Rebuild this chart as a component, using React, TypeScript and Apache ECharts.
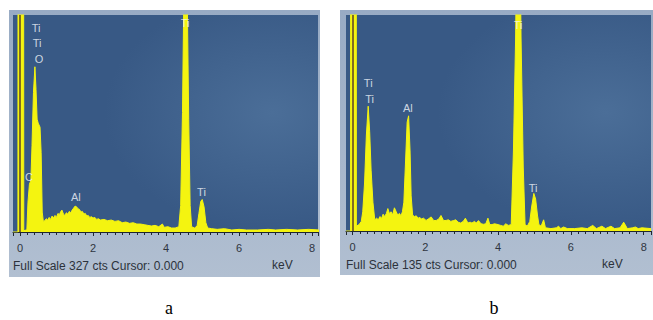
import React, { useEffect, useRef } from "react";
import * as echarts from "echarts";

// Spectrum a: [keV, counts]
const spectrumA: [number, number][] = [
  [-0.19, 0], [-0.055, 0], [-0.045, 2000], [0.09, 2000], [0.105, 2], [0.17, 3],
  [0.19, 4], [0.22, 45], [0.26, 72], [0.3, 78], [0.33, 130], [0.37, 210], [0.41, 249],
  [0.44, 215], [0.47, 170], [0.5, 164], [0.55, 158], [0.58, 120], [0.61, 30], [0.64, 16],
  [0.68, 17], [0.72, 20], [0.76, 18], [0.8, 22], [0.84, 19], [0.88, 24], [0.92, 21],
  [0.96, 25], [1.0, 22], [1.04, 28], [1.08, 26], [1.12, 31], [1.15, 33], [1.19, 27],
  [1.23, 25], [1.27, 29], [1.31, 27], [1.35, 31], [1.39, 29], [1.43, 33], [1.47, 36],
  [1.51, 39], [1.55, 38], [1.59, 35], [1.63, 34], [1.67, 30], [1.71, 31], [1.75, 27],
  [1.79, 28], [1.83, 24], [1.87, 25], [1.91, 22], [1.96, 23], [2.0, 21], [2.05, 22],
  [2.1, 19], [2.15, 20], [2.2, 18], [2.3, 19], [2.4, 17], [2.5, 18], [2.6, 16], [2.7, 17],
  [2.8, 14], [2.9, 15], [3.0, 13], [3.1, 14], [3.2, 12], [3.3, 12], [3.4, 11], [3.5, 10],
  [3.6, 9], [3.7, 10], [3.8, 8], [3.9, 12], [3.95, 7], [4.05, 8], [4.15, 6], [4.25, 6],
  [4.35, 8], [4.4, 40], [4.45, 180], [4.5, 420], [4.53, 470], [4.57, 400], [4.62, 170],
  [4.66, 40], [4.7, 8], [4.78, 6], [4.85, 9], [4.9, 28], [4.95, 46], [4.99, 49],
  [5.04, 38], [5.09, 14], [5.14, 6], [5.25, 5], [5.4, 4], [5.6, 5], [5.8, 3], [6.0, 4],
  [6.2, 3], [6.5, 3], [6.8, 4], [7.0, 3], [7.3, 4], [7.6, 3], [7.9, 4], [8.2, 3],
];

// Spectrum b: [keV, counts]
const spectrumB: [number, number][] = [
  [-0.18, 0], [-0.055, 0], [-0.045, 1000], [0.09, 1000], [0.105, 3], [0.18, 4],
  [0.24, 6], [0.28, 12], [0.33, 30], [0.38, 60], [0.43, 78], [0.47, 62], [0.51, 38],
  [0.56, 18], [0.61, 7], [0.66, 8], [0.71, 7], [0.75, 9], [0.8, 8], [0.84, 10.5],
  [0.88, 9], [0.93, 11], [0.97, 14], [1.01, 11], [1.06, 12], [1.1, 10], [1.15, 14.5],
  [1.2, 12], [1.24, 10], [1.29, 11], [1.33, 9.5], [1.37, 12], [1.41, 18], [1.45, 40],
  [1.5, 68], [1.54, 72], [1.58, 50], [1.61, 22], [1.65, 10], [1.7, 9], [1.75, 9.5],
  [1.8, 8], [1.85, 8.5], [1.89, 7.5], [1.95, 8], [2.02, 6.6], [2.08, 7.5], [2.16, 8.8],
  [2.23, 6.5], [2.3, 6.6], [2.37, 7.5], [2.43, 9.7], [2.5, 6.5], [2.57, 6.6], [2.63, 7],
  [2.7, 6], [2.77, 6.5], [2.84, 7], [2.9, 5.5], [2.97, 5], [3.04, 6], [3.1, 8],
  [3.17, 5], [3.23, 5.5], [3.28, 5], [3.35, 6], [3.4, 5], [3.46, 6.5], [3.53, 4.5],
  [3.6, 4.2], [3.66, 4.5], [3.72, 8], [3.77, 4], [3.83, 4], [3.9, 4.5], [4.0, 4],
  [4.07, 3.5], [4.14, 3], [4.21, 4.5], [4.28, 3.5], [4.36, 4], [4.42, 50], [4.48, 120],
  [4.53, 230], [4.58, 230], [4.63, 120], [4.69, 40], [4.74, 4], [4.8, 3], [4.87, 6],
  [4.92, 15], [4.98, 23.5], [5.03, 20], [5.08, 10], [5.12, 4], [5.18, 3], [5.25, 7],
  [5.3, 2], [5.45, 1.5], [5.6, 2], [5.66, 3], [5.72, 1.5], [5.8, 2.5], [5.9, 1.5],
  [6.1, 1.5], [6.3, 2], [6.45, 1.5], [6.6, 3.5], [6.7, 1.5], [6.85, 3], [6.95, 1.5],
  [7.1, 3], [7.2, 1.5], [7.35, 2], [7.45, 5.5], [7.55, 1.5], [7.7, 2], [7.77, 2.5],
  [7.85, 1.5], [7.95, 2], [8.2, 1.5],
];

// Peak labels: [keV, counts, element]
const peakLabelsA: [number, number, string][] = [
  [0.44, 307, "Ti"], [0.47, 285, "Ti"], [0.52, 261, "O"], [0.25, 83, "C"],
  [1.53, 53, "Al"], [4.52, 315, "Ti"], [4.97, 60, "Ti"],
];
const peakLabelsB: [number, number, string][] = [
  [0.43, 92.6, "Ti"], [0.47, 82.5, "Ti"], [1.52, 77, "Al"], [4.55, 129, "Ti"], [4.96, 27, "Ti"],
];

const fullScaleA = 327;
const fullScaleB = 135;
const footerA = "Full Scale 327 cts Cursor: 0.000";
const footerB = "Full Scale 135 cts Cursor: 0.000";
const panelNames = ["a", "b"];

const YELLOW = "#f4f410";
const SANS = "Liberation Sans, Arial, sans-serif";

const plotBg = {
  type: "radial",
  x: 0.85,
  y: 0.45,
  r: 0.55,
  colorStops: [
    { offset: 0, color: "#4b6e98" },
    { offset: 1, color: "#385985" },
  ],
};

function xAxisCfg(gridIndex: number, min: number, max: number) {
  return {
    type: "value",
    gridIndex,
    min,
    max,
    splitNumber: 4,
    axisLine: { show: true, lineStyle: { color: "#1f2630", width: 1 } },
    axisTick: { show: true, length: 4, lineStyle: { color: "#1f2630" } },
    minorTick: { show: true, splitNumber: 10, length: 3, lineStyle: { color: "#1f2630" } },
    splitLine: { show: false },
    axisLabel: { color: "#2e3540", fontSize: 11, fontFamily: SANS, margin: 10 },
  };
}

function spectrumSeries(idx: number, data: [number, number][]) {
  return {
    type: "line",
    xAxisIndex: idx,
    yAxisIndex: idx,
    data,
    symbol: "none",
    clip: true,
    lineStyle: { color: YELLOW, width: 1 },
    areaStyle: { color: YELLOW, opacity: 1 },
    z: 2,
    markLine: {
      silent: true,
      symbol: ["none", "none"],
      label: { show: false },
      lineStyle: { color: "#5a4028", width: 1.5, type: "solid" },
      data: [{ xAxis: 0 }],
    },
  };
}

function labelSeries(idx: number, labels: [number, number, string][]) {
  return {
    type: "scatter",
    xAxisIndex: idx,
    yAxisIndex: idx,
    symbolSize: 1,
    itemStyle: { color: "rgba(0,0,0,0)" },
    z: 5,
    data: labels.map((l) => ({ value: [l[0], l[1]], name: l[2] })),
    label: {
      show: true,
      position: "inside",
      formatter: "{b}",
      color: "#f2f6fb",
      fontSize: 11,
      fontFamily: SANS,
    },
  };
}

export default function App() {
  const ref = useRef<HTMLDivElement>(null);
  useEffect(() => {
    if (!ref.current) return;
    const chart = echarts.init(ref.current, undefined, { renderer: "svg" });
    const panelFill = {
      type: "linear",
      x: 0, y: 0, x2: 0, y2: 1,
      colorStops: [
        { offset: 0, color: "#98abc4" },
        { offset: 1, color: "#b1bfd1" },
      ],
    };
    chart.setOption({
      animation: false,
      backgroundColor: "#ffffff",
      graphic: [
        { type: "rect", z: -10, shape: { x: 9, y: 10, width: 311, height: 267 }, style: { fill: panelFill } },
        { type: "rect", z: -10, shape: { x: 340, y: 10, width: 313, height: 265 }, style: { fill: panelFill } },
        { type: "text", x: 13, y: 266, style: { text: footerA, font: `12px ${SANS}`, fill: "#2c323b", textVerticalAlign: "middle" } },
        { type: "text", x: 346, y: 265, style: { text: footerB, font: `12px ${SANS}`, fill: "#2c323b", textVerticalAlign: "middle" } },
        { type: "text", x: 272, y: 265, style: { text: "keV", font: `12px ${SANS}`, fill: "#2c323b", textVerticalAlign: "middle" } },
        { type: "text", x: 602, y: 264, style: { text: "keV", font: `12px ${SANS}`, fill: "#2c323b", textVerticalAlign: "middle" } },
        { type: "text", x: 169, y: 308, style: { text: panelNames[0], font: "18px 'Liberation Serif', serif", fill: "#000", textAlign: "center", textVerticalAlign: "middle" } },
        { type: "text", x: 494, y: 308, style: { text: panelNames[1], font: "18px 'Liberation Serif', serif", fill: "#000", textAlign: "center", textVerticalAlign: "middle" } },
      ],
      grid: [
        { left: 13, top: 15, width: 305, height: 217, show: true, backgroundColor: plotBg, borderWidth: 0 },
        { left: 346, top: 15, width: 305, height: 216, show: true, backgroundColor: plotBg, borderWidth: 0 },
      ],
      xAxis: [xAxisCfg(0, -0.19, 8.16), xAxisCfg(1, -0.18, 8.2)],
      yAxis: [
        { type: "value", gridIndex: 0, min: 0, max: fullScaleA, show: false },
        { type: "value", gridIndex: 1, min: 0, max: fullScaleB, show: false },
      ],
      series: [
        spectrumSeries(0, spectrumA),
        spectrumSeries(1, spectrumB),
        labelSeries(0, peakLabelsA),
        labelSeries(1, peakLabelsB),
      ],
    });
    return () => chart.dispose();
  }, []);
  return <div ref={ref} style={{ position: "absolute", left: 0, top: 0, width: 653, height: 320 }} />;
}
